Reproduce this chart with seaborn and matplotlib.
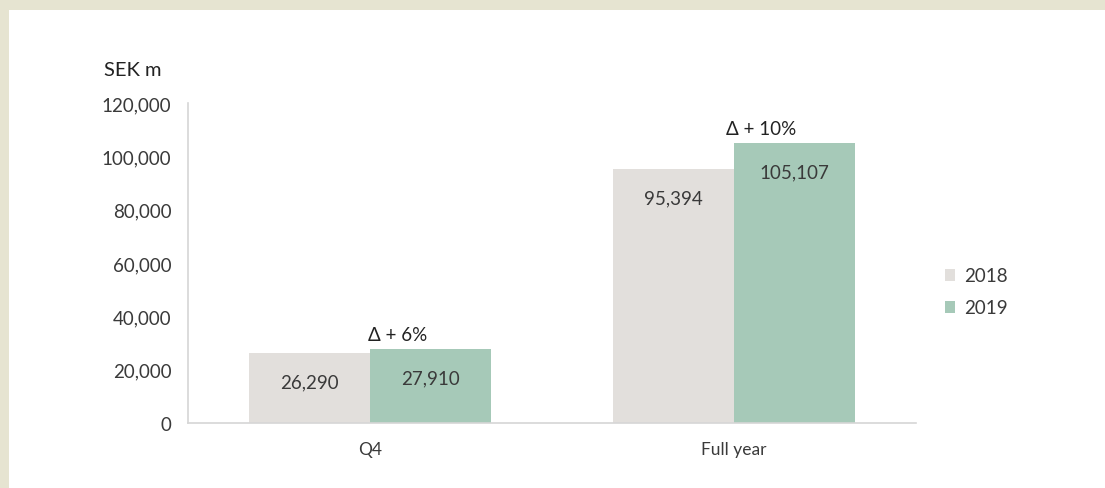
import matplotlib
matplotlib.use("Agg")
import matplotlib.pyplot as plt
from matplotlib.patches import Rectangle
import seaborn as sns
import pandas as pd

# Net sales, SEK m
periods = ["Q4", "Full year"]
years = ["2018", "2019"]
sales_2018 = [26290, 95394]
sales_2019 = [27910, 105107]
growth_labels = ["\u0394 + 6%", "\u0394 + 10%"]
y_ticks = [0, 20000, 40000, 60000, 80000, 100000, 120000]

df = pd.DataFrame({
    "period": periods * 2,
    "year": [years[0]] * len(periods) + [years[1]] * len(periods),
    "sales": sales_2018 + sales_2019,
})

sns.set_theme(style="white")
plt.rcParams["font.family"] = ["Lato", "DejaVu Sans"]

text_color = "#3a3a3a"
palette = {"2018": "#E2DFDC", "2019": "#A6C9B8"}

fig = plt.figure(figsize=(11.05, 4.89), dpi=100)
fig.patch.set_facecolor("#E6E4D1")
fig.patches.append(Rectangle((9 / 1105, 0), 1, 1 - 11 / 489, transform=fig.transFigure,
                             facecolor="white", edgecolor="none", zorder=-5))

ax = fig.add_axes([188 / 1105, 1 - 424 / 489, (916 - 188) / 1105, (424 - 104) / 489])
ax.set_zorder(2)
ax.set_facecolor("white")

sns.barplot(data=df, x="period", y="sales", hue="year", order=periods, hue_order=years,
            palette=palette, width=0.667, gap=0, saturation=1, errorbar=None,
            linewidth=0, ax=ax)

ax.set_xlim(-0.5, 1.5)
ax.set_ylim(0, 120000)
ax.set_yticks(y_ticks)
ax.set_yticklabels([f"{v:,}" for v in y_ticks], fontsize=13.5, color=text_color)
ax.tick_params(axis="x", labelsize=12.5, colors=text_color, length=0, pad=13)
ax.tick_params(axis="y", length=0, pad=12)
ax.set_xlabel("")
ax.set_ylabel("")

for side in ["top", "right"]:
    ax.spines[side].set_visible(False)
for side in ["left", "bottom"]:
    ax.spines[side].set_color("#d6d6d6")
    ax.spines[side].set_linewidth(1.2)

# Value labels inside the top of each bar
for container in ax.containers:
    ax.bar_label(container, labels=[f"{v:,.0f}" for v in container.datavalues],
                 label_type="edge", padding=-27, fontsize=13.5, color=text_color)

# Growth labels above the 2019 bars
for i, (val, lab) in enumerate(zip(sales_2019, growth_labels)):
    ax.annotate(lab, xy=(i + 0.075, val), xytext=(0, 4), textcoords="offset points",
                ha="center", va="bottom", fontsize=13.5, color="#222222")

fig.text(104 / 1105, 1 - 70 / 489, "SEK m", fontsize=14.5, color="#222222",
         ha="left", va="center")

handles, labels = ax.get_legend_handles_labels()
ax.legend(handles, labels, loc="center left", bbox_to_anchor=(928 / 1105, 1 - 293 / 489),
          bbox_transform=fig.transFigure, frameon=False, fontsize=13.5,
          handlelength=0.55, handleheight=0.55, handletextpad=0.45, labelspacing=0.8,
          labelcolor=text_color)

fig.savefig("out.png", dpi=100, facecolor=fig.get_facecolor())
